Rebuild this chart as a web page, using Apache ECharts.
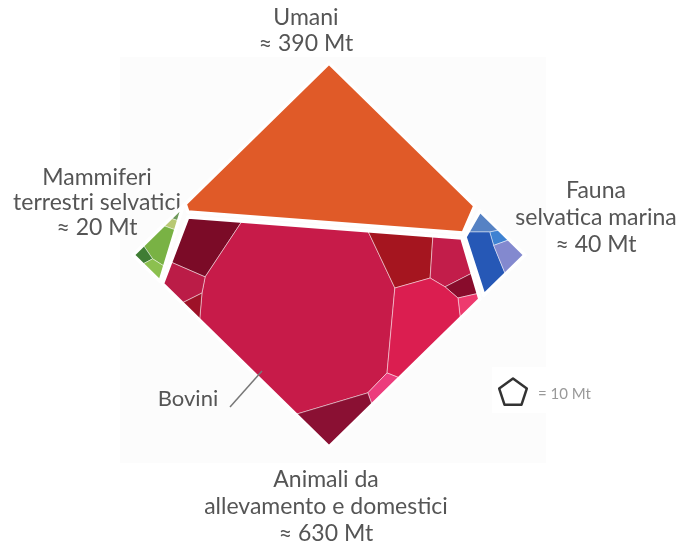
<!DOCTYPE html>
<html><head><meta charset="utf-8">
<script src="https://cdn.jsdelivr.net/npm/echarts@6/dist/echarts.min.js"></script>
<style>html,body{margin:0;padding:0;background:#fff}#c{width:696px;height:546px}</style>
</head><body><div id="c"></div>
<script>
// Voronoi treemap of Earth's mammal biomass (Mt). Cells in diamond space (0..100 x 0..100).
const groupNames = ['Umani', 'Mammiferi terrestri selvatici', 'Fauna selvatica marina', 'Animali da allevamento e domestici'];
const groupValues = [390, 20, 40, 630];
const groupPolygons = [
  [[50,100],[13.3,63.3],[14,61.2],[84.2,55.7],[87.2,62.8]],
  [[12.8,62.8],[0,50],[6.9,43.1]],
  [[88.5,61.5],[84.7,54.7],[89.5,39.5],[100,50]],
  [[14,59.9],[83.9,54.4],[88.5,38.5],[50,0],[7.5,42.5]]
];
const cellNames = ['Umani',
  'sel1','sel2','sel3','sel4','sel5',
  'mar1','mar2','mar3','mar4',
  'dom1','Bovini','dom3','dom4','dom5','dom6','dom7','dom8','dom9','dom10','dom11'];
const cellGroup = [0, 1,1,1,1,1, 2,2,2,2, 3,3,3,3,3,3,3,3,3,3,3];
const cellPolygons = [
  [[50,100],[13.3,63.3],[14,61.2],[84.2,55.7],[87.2,62.8]],
  [[12.8,62.8],[9.6,59.6],[11.6,58.9]],
  [[9.6,59.6],[7.7,57.7],[10.9,56.5],[11.6,58.9]],
  [[7.7,57.7],[2.6,52.6],[5,49],[8.1,47.0],[10.9,56.5]],
  [[2.6,52.6],[0,50],[2.4,47.6],[5,49]],
  [[5,49],[2.4,47.6],[6.9,43.1],[8.1,47.0]],
  [[88.5,61.5],[85.5,56],[91,56],[93.5,56.5]],
  [[91,56],[93.5,56.5],[96,54],[92,52.5]],
  [[85.5,56],[84.7,54.7],[89.5,39.5],[95,45],[92,52.5],[91,56]],
  [[92,52.5],[96,54],[100,50],[95,45]],
  [[14,59.9],[27.8,58.8],[18.4,44.3],[9.6,48.2]],
  [[27.8,58.8],[59.9,56.3],[66.8,41.4],[64.8,19.3],[59.9,14.1],[41.5,8.5],[17,33],[17.6,40.1],[18.4,44.3]],
  [[9.6,48.2],[18.4,44.3],[17.6,40.1],[12.5,37.5],[7.5,42.5]],
  [[12.5,37.5],[17.6,40.1],[17,33]],
  [[59.9,56.3],[76.5,55.0],[75.8,44.0],[66.8,41.4]],
  [[76.5,55.0],[83.9,54.4],[86.5,45.3],[79.6,41.7],[75.8,44.0]],
  [[79.6,41.7],[86.5,45.3],[88,40],[82.9,38.8]],
  [[82.9,38.8],[88,40],[88.5,38.5],[83.5,33.5]],
  [[66.8,41.4],[75.8,44.0],[79.6,41.7],[82.9,38.8],[83.5,33.5],[68,18],[64.8,19.3]],
  [[64.8,19.3],[68,18],[61,11],[59.9,14.1]],
  [[41.5,8.5],[59.9,14.1],[61,11],[50,0]]
];
const cellColors = ['#e05a28',
  '#6f9a5c','#b8c873','#79b244','#3f7d34','#8cc04f',
  '#5682c4','#3e82d2','#2658b6','#8389cf',
  '#7b0b27','#c71b49','#bb1c47','#9e1228',
  '#a5151f','#c21d4a','#880c2c','#ee3a6e','#db1e50','#ec3c7c','#8a1033'];

const chart = echarts.init(document.getElementById('c'), null, {renderer: 'canvas'});
const FONT = 'Lato';
const TXT = '#555';
function polyRender(polys, styleFn) {
  return function (params, api) {
    const pts = polys[params.dataIndex].map(p => api.coord(p));
    return {type: 'polygon', shape: {points: pts}, style: styleFn(params.dataIndex)};
  };
}
function txt(x, y, s, size, color) {
  return {type: 'text', x: x, y: y, style: {text: s, font: (size||23) + 'px ' + FONT, fill: color||TXT, align: 'center', verticalAlign: 'middle'}};
}
chart.setOption({
  animation: false,
  backgroundColor: '#ffffff',
  grid: {left: 133, top: 63, width: 392, height: 384},
  xAxis: {type: 'value', min: 0, max: 100, show: false},
  yAxis: {type: 'value', min: 0, max: 100, show: false},
  graphic: [
    {type: 'rect', z: -10, shape: {x: 120, y: 57, width: 426, height: 406}, style: {fill: '#fcfcfc'}},
    {type: 'rect', z: -9, shape: {x: 492, y: 367, width: 54, height: 46}, style: {fill: '#ffffff'}},
    {type: 'polygon', shape: {points: (function(){const c=[513,393],r=14.5,o=[];for(let k=0;k<5;k++){const a=-Math.PI/2+k*2*Math.PI/5;o.push([c[0]+r*Math.cos(a),c[1]+r*Math.sin(a)]);}return o;})()}, style: {fill: '#fff', stroke: '#333', lineWidth: 2.5, lineJoin: 'round'}},
    {type: 'text', x: 538, y: 394, style: {text: '= 10 Mt', font: '15px ' + FONT, fill: '#999', align: 'left', verticalAlign: 'middle'}},
    txt(306, 18, 'Umani'), txt(306, 44, '≈ 390 Mt'),
    txt(97, 178, 'Mammiferi'), txt(97, 203, 'terrestri selvatici'), txt(97, 228, '≈ 20 Mt'),
    txt(596, 191, 'Fauna'), txt(596, 218, 'selvatica marina'), txt(596, 245, '≈ 40 Mt'),
    txt(326, 480, 'Animali da'), txt(326, 507, 'allevamento e domestici'), txt(326, 534, '≈ 630 Mt'),
    txt(188, 399, 'Bovini', 22),
    {type: 'line', z: 100, shape: {x1: 230, y1: 407, x2: 262, y2: 371}, style: {stroke: '#777', lineWidth: 1.5}}
  ],
  series: [
    {
      type: 'custom', coordinateSystem: 'cartesian2d', z: 2,
      data: cellPolygons.map((p, i) => [p[0][0], p[0][1], i]),
      renderItem: polyRender(cellPolygons, i => ({fill: cellColors[i], stroke: 'rgba(255,255,255,0.45)', lineWidth: 1, lineJoin: 'round'}))
    },
    {
      type: 'custom', coordinateSystem: 'cartesian2d', z: 3, silent: true,
      data: groupPolygons.map((p, i) => [p[0][0], p[0][1], i]),
      renderItem: polyRender(groupPolygons, i => ({fill: 'none', stroke: '#ffffff', lineWidth: 3.5, lineJoin: 'round'}))
    }
  ]
});
</script>
</body></html>
